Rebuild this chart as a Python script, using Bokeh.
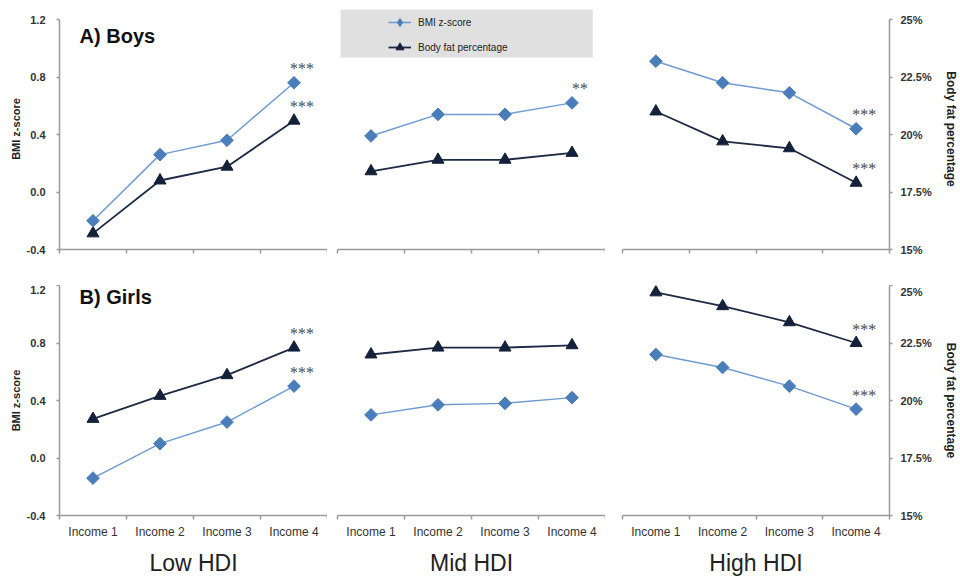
import math
from bokeh.plotting import figure
from bokeh.layouts import column, row
from bokeh.models import (Range1d, LinearAxis, FixedTicker, CustomJSTickFormatter,
                          NumeralTickFormatter, Legend, LegendItem, Label, BoxAnnotation)
from bokeh.embed import file_html
from bokeh.resources import INLINE

# ---------------- data ----------------
categories = ["Income 1", "Income 2", "Income 3", "Income 4"]
hdi_groups = ["Low HDI", "Mid HDI", "High HDI"]
bmi_ticks = [-0.4, 0.0, 0.4, 0.8, 1.2]
bf_ticks = [15, 17.5, 20, 22.5, 25]

boys_bmi_low = [-0.20, 0.26, 0.36, 0.76]
boys_bmi_mid = [0.39, 0.54, 0.54, 0.62]
boys_bmi_high = [0.91, 0.76, 0.69, 0.44]
boys_bf_low = [15.7, 18.0, 18.6, 20.6]
boys_bf_mid = [18.4, 18.9, 18.9, 19.2]
boys_bf_high = [21.0, 19.7, 19.4, 17.9]

girls_bmi_low = [-0.14, 0.10, 0.25, 0.50]
girls_bmi_mid = [0.30, 0.37, 0.38, 0.42]
girls_bmi_high = [0.72, 0.63, 0.50, 0.34]
girls_bf_low = [19.2, 20.2, 21.1, 22.3]
girls_bf_mid = [22.0, 22.3, 22.3, 22.4]
girls_bf_high = [24.7, 24.1, 23.4, 22.5]

boys_bmi_sig = [["", "", "", "***"], ["", "", "", "**"], ["", "", "", "***"]]
boys_bf_sig = [["", "", "", "***"], ["", "", "", ""], ["", "", "", "***"]]
girls_bmi_sig = [["", "", "", "***"], ["", "", "", ""], ["", "", "", "***"]]
girls_bf_sig = [["", "", "", "***"], ["", "", "", ""], ["", "", "", "***"]]

panel_titles = ["A) Boys", "B) Girls"]
legend_labels = ["BMI z-score", "Body fat percentage"]

# ---------------- style ----------------
FONT = "Liberation Sans"
BMI_LINE = "#6f9bd3"
BMI_MARK = "#4a7ebb"
BF_LINE = "#1c2a44"
BF_MARK = "#14213a"
AXIS = "#9a9a9a"
TXT = "#222222"

BMI_MIN, BMI_MAX = bmi_ticks[0], bmi_ticks[-1]
BF_MIN, BF_MAX = bf_ticks[0], bf_ticks[-1]
PLOT_PX = 230
TOP_EXTRA_PX = 11

frame_w = [268, 268, 267]
border_l = [59, 10, 17]
border_r = [0, 0, 66]
NAN = float("nan")
DIAMOND = dict(marker="square", angle=math.pi / 4)


def make_panel(r, c, bmi, bf, bmi_sig, bf_sig):
    top = (r == 0)
    extra = TOP_EXTRA_PX if top else 0
    bmi_span = (BMI_MAX - BMI_MIN) * (PLOT_PX + extra) / PLOT_PX
    bf_span = (BF_MAX - BF_MIN) * (PLOT_PX + extra) / PLOT_PX
    p = figure(x_range=Range1d(0, len(categories)),
               y_range=Range1d(BMI_MIN, BMI_MIN + bmi_span),
               frame_width=frame_w[c], frame_height=PLOT_PX + extra,
               min_border_left=border_l[c], min_border_right=border_r[c],
               min_border_top=8 if top else 0, min_border_bottom=36 if top else 62,
               x_axis_location=None, y_axis_location=None,
               output_backend="svg", toolbar_location=None)
    p.extra_y_ranges = {"bf": Range1d(BF_MIN, BF_MIN + bf_span)}
    p.outline_line_color = None
    p.xgrid.visible = False
    p.ygrid.visible = False
    p.background_fill_color = "white"
    p.border_fill_color = "white"

    # x axis: labels at category centres, tick marks at category boundaries
    n = len(categories)
    xa = LinearAxis(
        ticker=FixedTicker(ticks=[i + 0.5 for i in range(n)], minor_ticks=list(range(n + 1))),
        formatter=CustomJSTickFormatter(args=dict(cats=categories),
                                        code="return cats[Math.floor(tick)];"),
        axis_line_color=AXIS, axis_line_width=1.5,
        major_tick_line_color=None, major_tick_out=4, major_tick_in=0,
        minor_tick_line_color=AXIS, minor_tick_line_width=1.5,
        minor_tick_out=4, minor_tick_in=0,
        major_label_standoff=5,
        major_label_text_font=FONT, major_label_text_font_size="12px",
        major_label_text_color=None if top else "#333333",
    )
    if not top:
        xa.axis_label = hdi_groups[c]
        xa.axis_label_text_font = FONT
        xa.axis_label_text_font_size = "23px"
        xa.axis_label_text_font_style = "normal"
        xa.axis_label_text_color = TXT
        xa.axis_label_standoff = 8
    p.add_layout(xa, "below")

    if c == 0:
        ya = LinearAxis(
            ticker=FixedTicker(ticks=bmi_ticks), formatter=NumeralTickFormatter(format="0.0"),
            bounds=(BMI_MIN, BMI_MAX), axis_label="BMI z-score",
            axis_line_color=AXIS, axis_line_width=1.5,
            major_tick_line_color=AXIS, major_tick_line_width=1.5,
            major_tick_out=3, major_tick_in=0, minor_tick_line_color=None,
            major_label_standoff=11,
            major_label_text_font=FONT, major_label_text_font_size="11px",
            major_label_text_font_style="bold", major_label_text_color="#333333",
            axis_label_text_font=FONT, axis_label_text_font_size="11px",
            axis_label_text_font_style="bold", axis_label_text_color=TXT,
            axis_label_standoff=2,
        )
        p.add_layout(ya, "left")
    if c == 2:
        ra = LinearAxis(
            y_range_name="bf",
            ticker=FixedTicker(ticks=bf_ticks),
            formatter=CustomJSTickFormatter(code="return tick + '%';"),
            bounds=(BF_MIN, BF_MAX), axis_label="Body fat percentage",
            axis_line_color=AXIS, axis_line_width=1.5,
            major_tick_line_color=AXIS, major_tick_line_width=1.5,
            major_tick_out=3, major_tick_in=0, minor_tick_line_color=None,
            major_label_standoff=8,
            major_label_text_font=FONT, major_label_text_font_size="11px",
            major_label_text_font_style="bold", major_label_text_color="#333333",
            axis_label_text_font=FONT, axis_label_text_font_size="12px",
            axis_label_text_font_style="bold", axis_label_text_color=TXT,
            axis_label_standoff=9,
        )
        p.add_layout(ra, "right")

    xs = [i + 0.5 for i in range(n)]
    p.line(xs, bf, y_range_name="bf", line_color=BF_LINE, line_width=1.8)
    p.scatter(xs, bf, y_range_name="bf", marker="triangle", size=12,
              fill_color=BF_MARK, line_color=BF_MARK)
    p.line(xs, bmi, line_color=BMI_LINE, line_width=1.5)
    p.scatter(xs, bmi, size=9, fill_color=BMI_MARK, line_color=BMI_MARK, **DIAMOND)

    star_style = dict(x_offset=8, y_offset=-14, text_align="center", text_baseline="middle",
                      text_font_size="16px", text_color="#4a4a4a", text_font=FONT)
    p.text(xs, bmi, text=bmi_sig, **star_style)
    p.text(xs, bf, text=bf_sig, y_range_name="bf", **star_style)

    if c == 0:
        p.add_layout(Label(x=0.3, y=BMI_MAX - (16 if top else 11.5) / PLOT_PX * (BMI_MAX - BMI_MIN),
                           text=panel_titles[r], text_font=FONT, text_font_size="20px",
                           text_font_style="bold", text_baseline="middle", text_color="#111111"))

    if top and c == 1:
        unit = (BMI_MAX - BMI_MIN) / PLOT_PX
        p.add_layout(BoxAnnotation(left=0.045, right=3.81,
                                   top=BMI_MAX + 10 * unit, bottom=BMI_MAX - 38 * unit,
                                   fill_color="#e0e0e0", fill_alpha=1.0, line_color=None,
                                   level="underlay"))
        # legend-only glyphs (no visible data)
        l1 = p.line([NAN], [NAN], line_color=BMI_LINE, line_width=1.5)
        s1 = p.scatter([NAN], [NAN], marker="diamond", size=9, fill_color=BMI_MARK, line_color=BMI_MARK)
        l2 = p.line([NAN], [NAN], line_color=BF_LINE, line_width=1.8)
        s2 = p.scatter([NAN], [NAN], marker="triangle", size=8, fill_color=BF_MARK, line_color=BF_MARK)
        leg = Legend(items=[LegendItem(label=legend_labels[0], renderers=[l1, s1]),
                            LegendItem(label=legend_labels[1], renderers=[l2, s2])],
                     location=(51, 192), background_fill_alpha=0, border_line_alpha=0,
                     padding=0, margin=0, spacing=5, label_height=20, glyph_height=20,
                     glyph_width=23, label_standoff=7, label_text_font=FONT,
                     label_text_font_size="10px", label_text_color=TXT)
        p.add_layout(leg, "center")
    return p


boys_bmi = [boys_bmi_low, boys_bmi_mid, boys_bmi_high]
boys_bf = [boys_bf_low, boys_bf_mid, boys_bf_high]
girls_bmi = [girls_bmi_low, girls_bmi_mid, girls_bmi_high]
girls_bf = [girls_bf_low, girls_bf_mid, girls_bf_high]

top_row = [make_panel(0, c, boys_bmi[c], boys_bf[c], boys_bmi_sig[c], boys_bf_sig[c]) for c in range(3)]
bot_row = [make_panel(1, c, girls_bmi[c], girls_bf[c], girls_bmi_sig[c], girls_bf_sig[c]) for c in range(3)]

layout = column(row(*top_row, spacing=0), row(*bot_row, spacing=0), spacing=0)

open("out.html", "w").write(file_html(layout, INLINE))
